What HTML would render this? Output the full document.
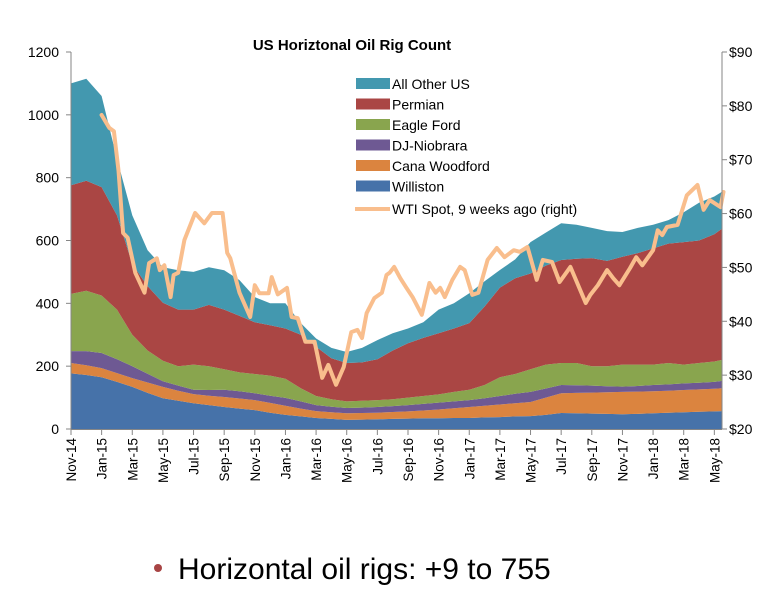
<!DOCTYPE html>
<html><head><meta charset="utf-8"><style>
body{margin:0;background:#fff;width:780px;height:591px;overflow:hidden;font-family:"Liberation Sans",Arial,sans-serif}
svg text{font-family:"Liberation Sans",Arial,sans-serif}
</style></head><body>
<svg id="c" width="780" height="591"></svg>
<script>
const categories=["Nov-14","Jan-15","Mar-15","May-15","Jul-15","Sep-15","Nov-15","Jan-16","Mar-16","May-16","Jul-16","Sep-16","Nov-16","Jan-17","Mar-17","May-17","Jul-17","Sep-17","Nov-17","Jan-18","Mar-18","May-18"];
const leftTicks=[0,200,400,600,800,1000,1200];
const rightTicks=[20,30,40,50,60,70,80,90];
const stackMonths=[0,1,2,3,4,5,6,7,8,9,10,11,12,13,14,15,16,17,18,19,20,21,22,23,24,25,26,27,28,29,30,31,32,33,34,35,36,37,38,39,40,41,42,42.5];
const williston=[177,172,165,150,134,115,98,90,82,76,70,65,60,52,45,40,35,32,29,30,31,32,33,34,34,35,35,37,38,40,41,45,51,50,49,48,47,48,50,52,53,55,56,57];
const canaWoodford=[33,31,29,28,28,33,36,32,29,30,32,32,32,31,29,25,22,21,21,21,21,22,23,25,28,31,35,37,40,42,45,55,63,65,67,69,71,71,70,70,71,71,72,73];
const djNiobrara=[38,45,48,44,38,28,18,16,14,18,23,23,22,23,25,23,19,18,17,17,18,19,20,21,22,22,22,24,27,30,32,29,26,24,22,19,17,18,20,20,21,21,22,23];
const eagleFord=[182,192,183,158,100,74,65,62,80,76,65,60,61,64,61,42,29,24,21,22,22,22,24,25,26,30,33,42,60,63,72,76,70,71,62,64,70,68,65,68,60,63,65,67];
const permian=[346,350,345,300,225,205,185,180,175,195,190,180,165,160,160,170,157,130,122,122,130,155,173,185,195,202,212,250,285,305,305,315,328,332,344,335,343,355,370,380,390,390,405,418];
const allOther=[324,325,290,180,155,114,113,125,120,120,125,114,80,70,80,37,26,33,35,46,61,55,47,50,75,80,95,80,56,60,100,105,117,108,96,95,79,80,75,75,95,120,120,117];
const oilMonths=[2.0,2.5,2.8,3.1,3.4,3.7,4.2,4.8,5.1,5.6,5.8,6.1,6.5,6.7,7.0,7.4,8.1,8.7,9.2,9.9,10.2,10.4,11.0,11.7,12.0,12.3,12.9,13.1,13.5,14.1,14.4,14.8,15.3,15.9,16.4,16.8,17.3,17.8,18.3,18.7,19.0,19.3,19.8,20.3,20.6,20.8,21.1,21.5,21.9,22.3,22.9,23.4,23.8,24.1,24.4,24.9,25.4,25.7,26.2,26.6,27.2,27.8,28.3,28.9,29.3,29.8,30.4,30.8,31.4,31.9,32.6,33.6,33.9,34.4,35.0,35.4,35.8,36.5,36.9,37.3,38.0,38.3,38.6,38.9,39.6,40.2,40.9,41.3,41.7,42.4,42.6];
const oilPrice=[78.3,75.9,75.3,68,56.4,55.5,49,45.3,50.8,51.7,49.5,50.4,44.5,48.6,49,55.1,60.1,58.2,60.1,60.1,52.7,51.7,45.3,40.8,46.7,45.2,45.2,48.2,45,46.2,40.8,40.6,36.2,36.2,29.5,31.9,28.2,31.5,38,38.4,36.9,41.5,44.3,45.3,48.6,49,50.1,48,46.2,44.5,41.2,47.1,45.3,46.2,44.5,47.7,50.1,49.5,44.9,45.3,51.4,53.6,51.9,53.2,52.9,53.8,47.7,51.4,51,47.3,50.1,43.4,44.9,46.7,49.5,48,46.7,49.9,51.9,50.4,53.2,56.9,56,57.5,57.9,63.4,65.3,60.7,62.5,61.2,64];

const NS="http://www.w3.org/2000/svg";
const svg=document.getElementById('c');
const X0=71,X1=722,Y0=429,Y1=52;
const xs=m=>X0+m/42.5*(X1-X0);
const yl=v=>Y0-v/1200*(Y0-Y1);
const yr=v=>Y0-(v-20)/70*(Y0-Y1);
function mk(tag,attrs,parent){const e=document.createElementNS(NS,tag);for(const k in attrs)e.setAttribute(k,attrs[k]);(parent||svg).appendChild(e);return e;}

const series=[
 {name:"williston",vals:williston,color:"#4672A9"},
 {name:"cana-woodford",vals:canaWoodford,color:"#DB843F"},
 {name:"dj-niobrara",vals:djNiobrara,color:"#6E5993"},
 {name:"eagle-ford",vals:eagleFord,color:"#89A54E"},
 {name:"permian",vals:permian,color:"#AA4644"},
 {name:"all-other-us",vals:allOther,color:"#4398AF"}];
const base=stackMonths.map(()=>0);
series.forEach(s=>{
  const top=base.map((b,i)=>b+s.vals[i]);
  let d="M"+stackMonths.map((m,i)=>xs(m).toFixed(1)+","+yl(top[i]).toFixed(1)).join("L");
  for(let i=stackMonths.length-1;i>=0;i--)d+="L"+xs(stackMonths[i]).toFixed(1)+","+yl(base[i]).toFixed(1);
  const p=mk('path',{d:d+"Z",fill:s.color});
  
  
  top.forEach((t,i)=>base[i]=t);
});
const oil=mk('path',{d:"M"+oilMonths.map((m,i)=>xs(m).toFixed(1)+","+yr(oilPrice[i]).toFixed(1)).join("L"),fill:"none",stroke:"#F9BE8D","stroke-width":4,"stroke-linejoin":"round","stroke-linecap":"round"});


const ax=mk('g',{stroke:"#868686","stroke-width":1});


mk('line',{x1:X0,y1:Y1,x2:X0,y2:Y0+0.5},ax);
mk('line',{x1:X1,y1:Y1,x2:X1,y2:Y0+0.5},ax);
mk('line',{x1:X0,y1:Y0+0.5,x2:X1,y2:Y0+0.5},ax);
leftTicks.forEach(v=>{
  mk('line',{x1:X0-5,y1:yl(v),x2:X0,y2:yl(v)},ax);
  const t=mk('text',{x:X0-12,y:yl(v)+5,"text-anchor":"end","font-size":14,fill:"#000"});
  t.textContent=v;
  
  
});
rightTicks.forEach(v=>{
  mk('line',{x1:X1,y1:yr(v),x2:X1+5,y2:yr(v)},ax);
  const t=mk('text',{x:X1+7,y:yr(v)+5,"font-size":14,fill:"#000"});
  t.textContent="$"+v;
  
  
});
categories.forEach((c,i)=>{
  const x=xs(i*2);
  mk('line',{x1:x,y1:Y0,x2:x,y2:Y0+6},ax);
  const t=mk('text',{x:0,y:0,"text-anchor":"end","font-size":13.5,fill:"#000",transform:`translate(${x+5},438) rotate(-90)`});
  t.textContent=c;
  
  
});
const ti=mk('text',{x:352,y:50,"text-anchor":"middle","font-size":15,"font-weight":"bold",fill:"#000"});
ti.textContent="US Horiztonal Oil Rig Count";


const leg=[["All Other US","#4398AF"],["Permian","#AA4644"],["Eagle Ford","#89A54E"],["DJ-Niobrara","#6E5993"],["Cana Woodford","#DB843F"],["Williston","#4672A9"]];
leg.forEach((l,i)=>{
  const y=84+i*20.5;
  const r=mk('rect',{x:356,y:y-6,width:34,height:11,fill:l[1]});
  
  
  const t=mk('text',{x:392,y:y+5,"font-size":14,fill:"#000"});
  t.textContent=l[0];
  
  
});
const ly=209;
const ll=mk('line',{x1:355,y1:ly,x2:390,y2:ly,stroke:"#F9BE8D","stroke-width":4});


const lt=mk('text',{x:392,y:ly+5,"font-size":14,fill:"#000"});
lt.textContent="WTI Spot, 9 weeks ago (right)";


const bc=mk('circle',{cx:158,cy:568,r:4,fill:"#A84444"});


const bt=mk('text',{x:178,y:579,"font-size":30,fill:"#000"});
bt.textContent="Horizontal oil rigs: +9 to 755";


</script>
</body></html>
